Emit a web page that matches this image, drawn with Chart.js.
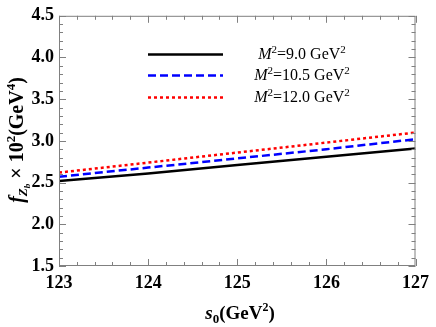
<!DOCTYPE html>
<html>
<head>
<meta charset="utf-8">
<script src="https://cdn.jsdelivr.net/npm/chart.js@4"></script>
<style>
html, body { margin: 0; padding: 0; background: #fff; }
#wrap { width: 436px; height: 327px; }
</style>
</head>
<body>
<div id="wrap"><canvas id="myChart"></canvas></div>
<script>
// s0 values (GeV^2) and f_Zb x 10^2 for three Borel parameters
const s0Values = [123, 124, 125, 126, 127];
const fM9 = [2.52, 2.61, 2.71, 2.81, 2.91];
const fM105 = [2.57, 2.68, 2.79, 2.90, 3.02];
const fM12 = [2.62, 2.74, 2.86, 2.98, 3.10];
const seriesLabels = ['9.0', '10.5', '12.0'];

const serif = '"Liberation Serif", "DejaVu Serif", serif';

function toPoints(ys) {
    return s0Values.map((x, i) => ({ x: x, y: ys[i] }));
}

// draw a string made of pieces with their own font and vertical shift
function drawRich(ctx, parts, x, y) {
    let total = 0;
    parts.forEach(p => { ctx.font = p.font; total += ctx.measureText(p.t).width; });
    let cx = x - total / 2;
    parts.forEach(p => {
        ctx.font = p.font;
        ctx.fillText(p.t, cx, y + (p.dy || 0));
        cx += ctx.measureText(p.t).width;
    });
}

const frameAndTicks = {
    id: 'frameAndTicks',
    afterDatasetsDraw(chart) {
        const ctx = chart.ctx;
        const a = chart.chartArea;
        const xs = chart.scales.x;
        const ys = chart.scales.y;
        ctx.save();
        ctx.strokeStyle = '#808080';
        ctx.lineWidth = 1;
        ctx.strokeRect(a.left + 0.5, a.top + 0.5, a.right - a.left - 1, a.bottom - a.top - 1);
        ctx.beginPath();
        for (let i = 0; i <= 20; i++) {
            const px = Math.round(xs.getPixelForValue(123 + i * 0.2)) + 0.5;
            const len = i % 5 === 0 ? 7 : 4;
            ctx.moveTo(px, a.bottom); ctx.lineTo(px, a.bottom - len);
            ctx.moveTo(px, a.top); ctx.lineTo(px, a.top + len);
        }
        for (let i = 0; i <= 30; i++) {
            const py = Math.round(ys.getPixelForValue(1.5 + i * 0.1)) + 0.5;
            const len = i % 5 === 0 ? 7 : 4;
            ctx.moveTo(a.left, py); ctx.lineTo(a.left + len, py);
            ctx.moveTo(a.right, py); ctx.lineTo(a.right - len, py);
        }
        ctx.stroke();
        ctx.restore();
    },
    afterDraw(chart) {
        const ctx = chart.ctx;
        ctx.save();
        ctx.fillStyle = '#000';
        ctx.textBaseline = 'alphabetic';

        // x title
        drawRich(ctx, [
            { t: 's', font: 'italic bold 19px ' + serif },
            { t: '0', font: 'bold 13px ' + serif, dy: 4 },
            { t: '(GeV', font: 'bold 19px ' + serif },
            { t: '2', font: 'bold 12px ' + serif, dy: -8 },
            { t: ')', font: 'bold 19px ' + serif }
        ], 240, 319);

        // y title
        ctx.save();
        ctx.translate(15, 140);
        ctx.rotate(-Math.PI / 2);
        drawRich(ctx, [
            { t: 'f', font: 'italic bold 20px ' + serif },
            { t: 'Z', font: 'italic bold 13px ' + serif, dy: 4 },
            { t: 'b', font: 'italic bold 9px ' + serif, dy: 7 },
            { t: ' \u00d7 10', font: 'bold 20px ' + serif },
            { t: '2', font: 'bold 13px ' + serif, dy: -8 },
            { t: '(GeV', font: 'bold 20px ' + serif },
            { t: '4', font: 'bold 13px ' + serif, dy: -8 },
            { t: ')', font: 'bold 20px ' + serif }
        ], 0, 8);
        ctx.restore();

        // legend
        const rowsY = [54, 75, 97];
        chart.data.datasets.forEach((ds, i) => {
            const y = rowsY[i];
            ctx.save();
            ctx.strokeStyle = ds.borderColor;
            ctx.lineWidth = ds.borderWidth;
            ctx.setLineDash(ds.borderDash || []);
            ctx.beginPath();
            ctx.moveTo(148, y + 0.5);
            ctx.lineTo(223, y + 0.5);
            ctx.stroke();
            ctx.restore();
            drawRich(ctx, [
                { t: 'M', font: 'italic 16px ' + serif },
                { t: '2', font: '11px ' + serif, dy: -6 },
                { t: '=' + seriesLabels[i] + ' GeV', font: '16px ' + serif },
                { t: '2', font: '11px ' + serif, dy: -6 }
            ], 302, y + 5);
        });
        ctx.restore();
    }
};

const ctx = document.getElementById('myChart');

new Chart(ctx, {
    type: 'line',
    data: {
        datasets: [{
            label: 'M2=9.0 GeV2',
            data: toPoints(fM9),
            borderColor: '#000000',
            borderWidth: 2.5
        }, {
            label: 'M2=10.5 GeV2',
            data: toPoints(fM105),
            borderColor: '#0000ff',
            borderWidth: 2.5,
            borderDash: [8, 4]
        }, {
            label: 'M2=12.0 GeV2',
            data: toPoints(fM12),
            borderColor: '#ff0000',
            borderWidth: 2.5,
            borderDash: [3, 3]
        }]
    },
    options: {
        responsive: true,
        maintainAspectRatio: false,
        animation: false,
        elements: {
            point: { radius: 0 },
            line: { tension: 0, fill: false }
        },
        layout: { padding: { top: 12, right: 14, left: 0, bottom: 0 } },
        plugins: {
            legend: { display: false },
            tooltip: { enabled: false }
        },
        scales: {
            x: {
                type: 'linear',
                min: 123,
                max: 127,
                grid: { display: false, drawTicks: false },
                border: { display: false },
                ticks: {
                    stepSize: 1,
                    padding: 7,
                    color: '#000',
                    font: { family: serif, size: 18, weight: 'bold' }
                },
                afterFit(scale) { scale.height = 61; }
            },
            y: {
                min: 1.5,
                max: 4.5,
                grid: { display: false, drawTicks: false },
                border: { display: false },
                ticks: {
                    stepSize: 0.5,
                    padding: 5,
                    color: '#000',
                    font: { family: serif, size: 18, weight: 'bold' },
                    callback: v => v.toFixed(1)
                },
                afterFit(scale) { scale.width = 59; }
            }
        }
    },
    plugins: [frameAndTicks]
});
</script>
</body>
</html>
